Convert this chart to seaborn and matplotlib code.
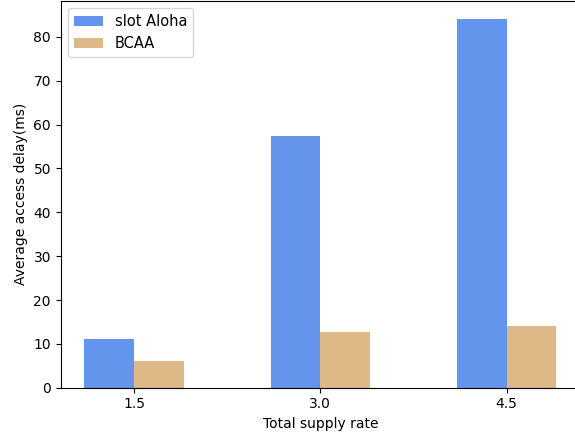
import pandas as pd
import matplotlib
matplotlib.use("Agg")
import matplotlib.pyplot as plt
import seaborn as sns

# values
rates = [1.5, 3.0, 4.5]
slot_aloha = [11.0, 57.3, 84.0]
bcaa = [6.2, 12.7, 14.0]
methods = ["slot Aloha", "BCAA"]
colors = ["cornflowerblue", "burlywood"]

df = pd.DataFrame({
    "rate": rates * 2,
    "delay": slot_aloha + bcaa,
    "method": [methods[0]] * len(rates) + [methods[1]] * len(rates),
})

fig = plt.figure(figsize=(5.75, 4.37), dpi=100)
# the reference is cropped just inside the right spine
ax = fig.add_axes([0.1056, 0.1128, 0.903, 0.885])

sns.barplot(data=df, x="rate", y="delay", hue="method", native_scale=True,
            width=0.8 / 1.5, palette=colors, saturation=1, ax=ax)

ax.set_xticks(rates)
ax.set_xticklabels([str(r) for r in rates])
ax.set_xlim(0.91, 5.09)
ax.set_ylim(0, 84.0 * 1.05)
ax.set_xlabel("Total supply rate")
ax.set_ylabel("Average access delay(ms)")
ax.legend(loc="upper left", fontsize=10.5)

fig.savefig("out.png", dpi=100)
